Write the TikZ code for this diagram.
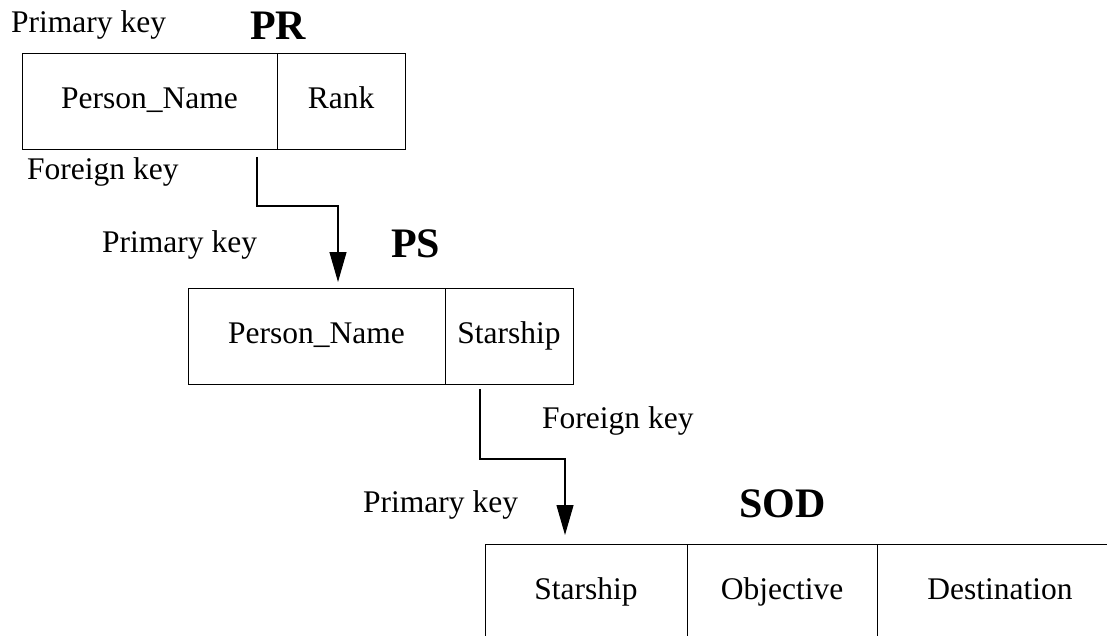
\documentclass[tikz,border=0pt]{standalone}
\usepackage{fontspec}
\setmainfont{Liberation Serif}
\usepackage{tikz}
\usetikzlibrary{positioning, arrows.meta}
\tikzset{x=1pt, y=-1pt, line width=1.2pt,
  cell/.style={draw, inner sep=0pt, outer sep=0pt, minimum height=96pt, text height=22pt, text depth=7pt},
  lbl/.style={anchor=base west, inner sep=0pt},
  ttl/.style={anchor=base west, inner sep=0pt, font=\fontsize{42}{46}\selectfont\bfseries},
  keyline/.style={-{Triangle[length=30pt, width=17pt]}, line width=1.1pt},}

\begin{document}
\begin{tikzpicture}[font=\fontsize{31.5}{36}\selectfont]
        \clip (0,0) rectangle (1107,636);

        % table PR
        \node[ttl] (prtitle) at (250,40) {PR};
        \node[cell, minimum width=255pt] (prname) at (149.5,101.5) {Person\_Name};
        \node[cell, minimum width=128pt, right=0pt of prname] (prrank) {Rank};
        \node[lbl] (prpk) at (11,33) {Primary key};
        \node[lbl] (prfk) at (27,180) {Foreign key};

        % table PS
        \node[ttl] (pstitle) at (391,258) {PS};
        \node[cell, minimum width=257pt] (psname) at (316.5,336) {Person\_Name};
        \node[cell, minimum width=128pt, right=0pt of psname] (psship) {Starship};
        \node[lbl] (pspk) at (102,252) {Primary key};
        \node[lbl] (psfk) at (542,428) {Foreign key};

        % table SOD
        \node[ttl] (sodtitle) at (739,517) {SOD};
        \node[cell, minimum width=202pt] (sodship) at (586,592) {Starship};
        \node[cell, minimum width=190pt, right=0pt of sodship] (sodobj) {Objective};
        \node[cell, minimum width=246pt, right=0pt of sodobj] (soddest) {Destination};
        \node[lbl] (sodpk) at (363,512) {Primary key};

        % foreign key links
        \coordinate (fk1) at (257,157);
        \coordinate (pk1) at ([yshift=6pt]psname.north -| 338,0);
        \coordinate (fk2) at (480,389);
        \coordinate (pk2) at ([yshift=9pt]sodship.north -| 565,0);
        \draw[keyline] (fk1) -- (fk1 |- 0,206) -| (pk1);
        \draw[keyline] (fk2) -- (fk2 |- 0,459) -| (pk2);
    \end{tikzpicture}
\end{document}
